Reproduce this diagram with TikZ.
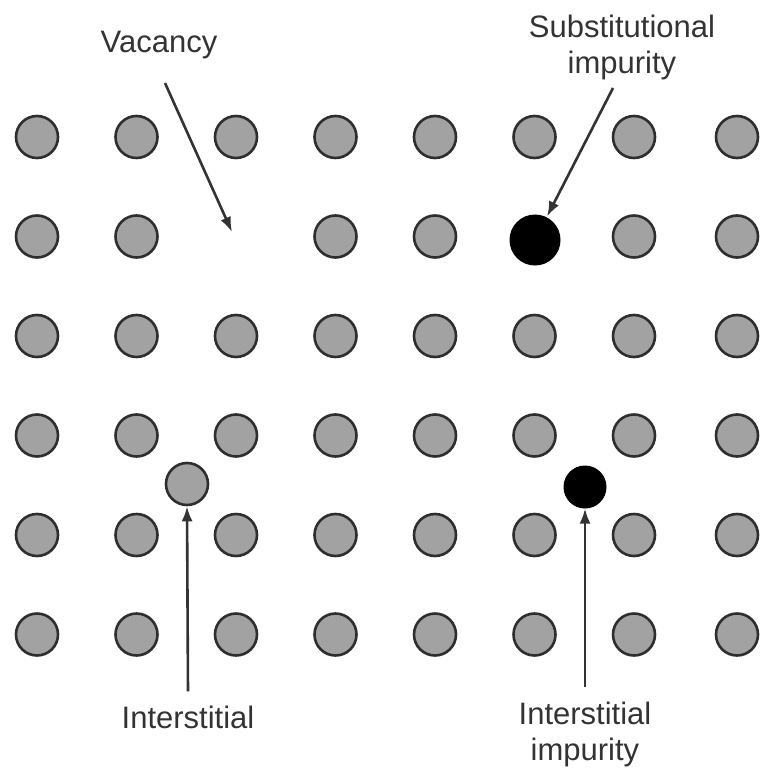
\documentclass[tikz,border=0pt]{standalone}
\usepackage{fontspec}
\setmainfont{Liberation Sans}
\usetikzlibrary{arrows.meta,calc}
\definecolor{atomfill}{HTML}{A2A2A2}
\definecolor{atomline}{HTML}{2E2E2E}
\tikzset{
  atom/.style={circle,fill=atomfill,draw=atomline,line width=2.6pt,minimum size=42pt,inner sep=0pt},
  blackatom/.style={circle,fill=black,draw=black,line width=1pt,inner sep=0pt},
  lbl/.style={font=\fontsize{31}{36}\selectfont,text=black!80,align=center,inner sep=0pt},
  arr/.style={-{Latex[length=15pt,width=11pt]},line width=2.6pt,draw=black!80}
}
\begin{document}
\begin{tikzpicture}[x=1pt,y=-1pt]
\useasboundingbox (0,0) rectangle (763,768);
% lattice
\foreach \cx [count=\i] in {37,136.5,236,335.5,435,534.5,634,737}{
  \foreach \cy [count=\j] in {137,236.5,336,435.5,535,634.5}{
    \pgfmathtruncatemacro{\skip}{(\i==3 && \j==2) || (\i==6 && \j==2) ? 1 : 0}
    \ifnum\skip=0
      \node[atom] (c-\i-\j) at (\cx,\cy) {};
    \fi
  }
}
% substitutional impurity
\node[blackatom,minimum size=50pt] (sub) at (535,240) {};
% interstitial atom
\node[atom] (inter) at (187,484) {};
% interstitial impurity
\node[blackatom,minimum size=42pt] (iimp) at (585,487) {};
% vacancy site
\coordinate (vac) at (236,238);
% labels
\node[lbl] (lvac) at (159,45) {Vacancy};
\node[lbl] (lsub) at (622,47) {Substitutional\\impurity};
\node[lbl] (lint) at (188,717) {Interstitial};
\node[lbl] (limp) at (585,734) {Interstitial\\impurity};
% arrows
\coordinate (vs) at (165,83);
\coordinate (ve) at (232,232);
\draw[arr] (vs) -- (ve);
\coordinate (ss) at (613,88);
\draw[arr,shorten >=1pt] (ss) -- (sub);
\draw[arr] (lint.north) ++(0,-14) -- (inter.south);
\draw[arr] (limp.north) ++(0,-14) -- (iimp.south);
\end{tikzpicture}
\end{document}
